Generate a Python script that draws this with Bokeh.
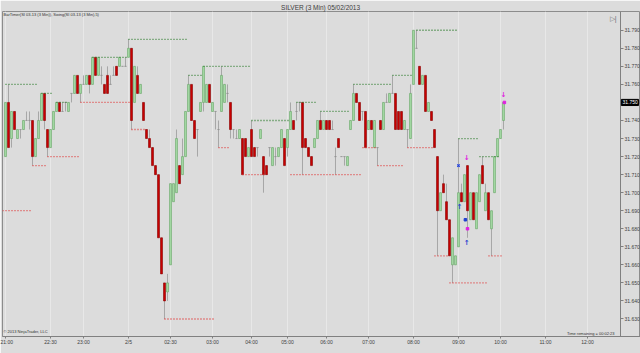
from bokeh.plotting import figure
from bokeh.models import ColumnDataSource, FixedTicker, NumeralTickFormatter, Label, Title, Range1d
from bokeh.embed import file_html
from bokeh.resources import INLINE
from bokeh.core.properties import value

# ---- 3-minute bars (bar index = position on the chart) ----
opens = [31.720, 31.750, 31.730, 31.745, 31.730, 31.735, 31.735, 31.740, 31.740, 31.740,
         31.720, 31.730, 31.740, 31.755, 31.735, 31.725, 31.735, 31.745, 31.750, 31.745,
         31.750, 31.745, 31.755, 31.755, 31.765, 31.755, 31.760, 31.760, 31.765, 31.760,
         31.775, 31.765, 31.765, 31.760, 31.765, 31.760, 31.765, 31.770, 31.770, 31.770,
         31.770, 31.775, 31.780, 31.750, 31.765, 31.755, 31.750, 31.735, 31.730, 31.725,
         31.715, 31.710, 31.675, 31.650, 31.645, 31.660, 31.695, 31.700, 31.715, 31.710,
         31.720, 31.745, 31.760, 31.740, 31.735, 31.745, 31.750, 31.750, 31.760, 31.745,
         31.745, 31.735, 31.745, 31.750, 31.755, 31.750, 31.735, 31.730, 31.730, 31.730,
         31.730, 31.720, 31.735, 31.725, 31.725, 31.730, 31.720, 31.715, 31.725, 31.715,
         31.720, 31.720, 31.725, 31.730, 31.725, 31.735, 31.740, 31.745, 31.750, 31.750,
         31.730, 31.725, 31.720, 31.725, 31.730, 31.740, 31.735, 31.740, 31.740, 31.735,
         31.720, 31.730, 31.720, 31.720, 31.715, 31.735, 31.740, 31.755, 31.750, 31.745,
         31.745, 31.735, 31.740, 31.725, 31.725, 31.740, 31.735, 31.750, 31.750, 31.755,
         31.755, 31.745, 31.745, 31.735, 31.735, 31.730, 31.760, 31.780, 31.770, 31.760,
         31.765, 31.745, 31.745, 31.735, 31.720, 31.690, 31.705, 31.695, 31.685, 31.660,
         31.660, 31.670, 31.700, 31.695, 31.715, 31.685, 31.700, 31.680, 31.695, 31.715,
         31.690, 31.700, 31.680, 31.700, 31.720, 31.730, 31.740]
highs = [31.750, 31.760, 31.745, 31.745, 31.735, 31.735, 31.740, 31.745, 31.745, 31.740,
         31.730, 31.745, 31.755, 31.755, 31.735, 31.735, 31.745, 31.750, 31.750, 31.750,
         31.750, 31.750, 31.755, 31.765, 31.765, 31.760, 31.765, 31.765, 31.765, 31.775,
         31.775, 31.775, 31.770, 31.760, 31.770, 31.765, 31.770, 31.770, 31.775, 31.770,
         31.775, 31.785, 31.780, 31.770, 31.770, 31.760, 31.750, 31.735, 31.735, 31.725,
         31.715, 31.710, 31.675, 31.650, 31.655, 31.705, 31.705, 31.735, 31.715, 31.730,
         31.745, 31.765, 31.760, 31.740, 31.735, 31.750, 31.770, 31.760, 31.760, 31.750,
         31.745, 31.740, 31.770, 31.760, 31.760, 31.750, 31.735, 31.735, 31.735, 31.730,
         31.730, 31.725, 31.740, 31.725, 31.725, 31.735, 31.720, 31.715, 31.725, 31.725,
         31.725, 31.725, 31.735, 31.730, 31.735, 31.750, 31.740, 31.750, 31.750, 31.750,
         31.730, 31.725, 31.720, 31.730, 31.740, 31.745, 31.740, 31.740, 31.740, 31.740,
         31.725, 31.730, 31.720, 31.720, 31.720, 31.740, 31.760, 31.755, 31.750, 31.745,
         31.745, 31.740, 31.740, 31.740, 31.725, 31.740, 31.750, 31.755, 31.755, 31.765,
         31.755, 31.745, 31.745, 31.740, 31.735, 31.760, 31.790, 31.790, 31.770, 31.765,
         31.765, 31.750, 31.745, 31.735, 31.720, 31.700, 31.710, 31.705, 31.685, 31.675,
         31.665, 31.730, 31.705, 31.710, 31.715, 31.700, 31.700, 31.700, 31.710, 31.720,
         31.705, 31.700, 31.690, 31.720, 31.730, 31.735, 31.750]
lows = [31.720, 31.725, 31.725, 31.735, 31.730, 31.730, 31.735, 31.740, 31.735, 31.715,
        31.720, 31.730, 31.740, 31.735, 31.720, 31.725, 31.735, 31.745, 31.745, 31.745,
        31.745, 31.745, 31.750, 31.755, 31.755, 31.750, 31.760, 31.760, 31.755, 31.760,
        31.765, 31.765, 31.760, 31.755, 31.755, 31.760, 31.765, 31.765, 31.770, 31.770,
        31.770, 31.775, 31.735, 31.750, 31.755, 31.755, 31.740, 31.730, 31.725, 31.715,
        31.710, 31.675, 31.655, 31.630, 31.640, 31.660, 31.695, 31.700, 31.705, 31.710,
        31.720, 31.745, 31.740, 31.730, 31.720, 31.745, 31.745, 31.750, 31.750, 31.745,
        31.735, 31.725, 31.745, 31.750, 31.750, 31.730, 31.730, 31.730, 31.730, 31.710,
        31.720, 31.720, 31.720, 31.720, 31.720, 31.730, 31.700, 31.710, 31.720, 31.715,
        31.715, 31.720, 31.725, 31.715, 31.720, 31.735, 31.735, 31.740, 31.745, 31.710,
        31.725, 31.720, 31.715, 31.725, 31.730, 31.735, 31.735, 31.735, 31.735, 31.735,
        31.710, 31.725, 31.720, 31.715, 31.715, 31.735, 31.740, 31.750, 31.740, 31.740,
        31.725, 31.735, 31.735, 31.725, 31.715, 31.735, 31.735, 31.750, 31.750, 31.755,
        31.735, 31.735, 31.735, 31.735, 31.725, 31.730, 31.760, 31.780, 31.760, 31.760,
        31.745, 31.745, 31.740, 31.725, 31.665, 31.690, 31.700, 31.685, 31.665, 31.650,
        31.660, 31.670, 31.695, 31.695, 31.675, 31.685, 31.685, 31.680, 31.695, 31.705,
        31.690, 31.685, 31.665, 31.700, 31.720, 31.730, 31.735]
closes = [31.750, 31.725, 31.745, 31.735, 31.735, 31.735, 31.740, 31.740, 31.740, 31.720,
          31.730, 31.740, 31.755, 31.740, 31.725, 31.735, 31.745, 31.750, 31.745, 31.745,
          31.750, 31.750, 31.755, 31.765, 31.755, 31.760, 31.760, 31.765, 31.760, 31.775,
          31.765, 31.775, 31.765, 31.755, 31.755, 31.760, 31.765, 31.765, 31.775, 31.770,
          31.770, 31.780, 31.740, 31.770, 31.755, 31.760, 31.740, 31.730, 31.725, 31.715,
          31.710, 31.675, 31.655, 31.640, 31.650, 31.705, 31.705, 31.730, 31.705, 31.720,
          31.745, 31.760, 31.740, 31.730, 31.735, 31.750, 31.770, 31.760, 31.750, 31.750,
          31.745, 31.735, 31.765, 31.760, 31.755, 31.735, 31.735, 31.730, 31.735, 31.710,
          31.720, 31.725, 31.720, 31.720, 31.725, 31.735, 31.710, 31.710, 31.725, 31.725,
          31.720, 31.725, 31.735, 31.715, 31.735, 31.745, 31.735, 31.745, 31.750, 31.725,
          31.725, 31.720, 31.715, 31.730, 31.740, 31.735, 31.740, 31.735, 31.735, 31.735,
          31.720, 31.725, 31.720, 31.720, 31.720, 31.740, 31.755, 31.750, 31.740, 31.745,
          31.725, 31.740, 31.735, 31.740, 31.725, 31.735, 31.750, 31.750, 31.755, 31.755,
          31.735, 31.735, 31.735, 31.740, 31.735, 31.755, 31.790, 31.780, 31.760, 31.765,
          31.745, 31.750, 31.740, 31.725, 31.690, 31.700, 31.700, 31.685, 31.665, 31.675,
          31.665, 31.700, 31.695, 31.710, 31.690, 31.700, 31.685, 31.700, 31.710, 31.705,
          31.700, 31.685, 31.690, 31.720, 31.730, 31.735, 31.750]

# ---- Swing indicator lines (start bar, end bar, price) ----
swing_high_start = [0, 12, 17, 29, 41, 61, 66, 82, 97, 105, 116, 129, 137, 151, 158]
swing_high_end = [11, 16, 21, 41, 61, 66, 82, 95, 104, 115, 129, 136, 151, 158, 165]
swing_high_price = [31.760, 31.755, 31.750, 31.775, 31.785, 31.765, 31.770, 31.740,
                    31.750, 31.745, 31.760, 31.765, 31.790, 31.730, 31.720]
swing_low_start = [-1, 9, 14, 25, 42, 53, 71, 79, 95, 119, 124, 134, 143, 148, 161]
swing_low_end = [9, 14, 25, 42, 47, 70, 75, 87, 119, 124, 133, 143, 148, 161, 166]
swing_low_price = [31.690, 31.715, 31.720, 31.750, 31.735, 31.630, 31.725, 31.710,
                   31.710, 31.725, 31.715, 31.725, 31.665, 31.650, 31.665]

# ---- trade markers ----
up_arrow_bar = [151.3, 153.7]
up_arrow_price = [31.692, 31.672]
down_arrow_bar = [153.7, 166.0]
down_arrow_price = [31.719, 31.754]
x_mark_bar = [151.0]
x_mark_price = [31.715]
blue_dot_bar = [153.3]
blue_dot_price = [31.685]
pink_dot_bar = [154.0, 166.3]
pink_dot_price = [31.680, 31.750]

# ---- axes ----
time_tick_bars = [0, 15, 26, 41, 55, 69, 82, 94, 107, 121, 136, 151, 165, 180, 194]
time_tick_labels = ["21:00", "22:30", "23:00", "2/5", "02:30", "03:00", "04:00", "05:00",
                    "06:00", "07:00", "08:00", "09:00", "10:00", "11:00", "12:00"]
price_ticks = [31.63, 31.64, 31.65, 31.66, 31.67, 31.68, 31.69, 31.70, 31.71,
               31.72, 31.73, 31.74, 31.75, 31.76, 31.77, 31.78, 31.79]
last_price = closes[-1]
price_axis_bar = 205          # bar position where the price scale sits

BG = "#dcdcdc"
UP_FILL, UP_LINE = "#a3d8a3", "#6aa86a"
DN_FILL, DN_LINE = "#c80000", "#8a0000"
WICK = "#a6a6a6"
FONT = "Liberation Sans"

bars = list(range(len(opens)))
fills, lines, tops, bottoms = [], [], [], []
for o, c in zip(opens, closes):
    if c > o:
        fills.append(UP_FILL); lines.append(UP_LINE)
    elif c < o:
        fills.append(DN_FILL); lines.append(DN_LINE)
    else:
        fills.append(WICK); lines.append("#909090")
    tops.append(max(o, c)); bottoms.append(min(o, c))

src = ColumnDataSource(dict(x=bars, o=opens, h=highs, l=lows, c=closes,
                            top=tops, bottom=bottoms, fill=fills, line=lines))

p = figure(width=640, height=353, output_backend="svg", toolbar_location=None,
           x_range=Range1d(-1, 211.67), y_range=Range1d(31.6203, 31.8004),
           y_axis_location="right",
           min_border_left=2, min_border_right=0, min_border_top=11, min_border_bottom=17,
           background_fill_color=BG, border_fill_color=BG)
p.outline_line_color = "#8c8c8c"

title = Title(text="SILVER (3 Min)  05/02/2013", align="center", text_font_size="6.5px",
              text_font=FONT, text_font_style="normal", text_color="#3c3c3c", standoff=1)
p.add_layout(title, "above")

p.xgrid.grid_line_color = "#e8e8e8"
p.ygrid.grid_line_color = None

xa = p.xaxis[0]
xa.ticker = FixedTicker(ticks=time_tick_bars)
xa.major_label_overrides = {b: t for b, t in zip(time_tick_bars, time_tick_labels)}
xa.major_label_text_font_size = "5px"
xa.major_label_text_font = FONT
xa.major_label_text_color = "#404040"
xa.major_tick_out = 2
xa.major_tick_in = 0
xa.minor_tick_line_color = None
xa.axis_line_color = "#808080"
xa.major_tick_line_color = "#808080"
xa.major_label_standoff = 0

ya = p.yaxis[0]
ya.fixed_location = price_axis_bar
ya.ticker = FixedTicker(ticks=price_ticks)
ya.formatter = NumeralTickFormatter(format="0.000")
ya.major_label_text_font_size = "5px"
ya.major_label_text_font = FONT
ya.major_label_text_color = "#404040"
ya.major_tick_out = 3
ya.major_tick_in = 0
ya.minor_tick_line_color = None
ya.axis_line_color = "#808080"
ya.major_tick_line_color = "#808080"
ya.major_label_standoff = 1

# wicks then bodies
p.segment(x0="x", y0="h", x1="x", y1="l", source=src, line_color=WICK, line_width=1)
p.vbar(x="x", width=0.66, top="top", bottom="bottom", source=src,
       fill_color="fill", line_color="line", line_width=0.6)

# swing lines (dotted)
p.segment(x0=swing_high_start, y0=swing_high_price, x1=swing_high_end, y1=swing_high_price,
          line_color="#2e7d2e", line_width=1.3, line_dash="1 2")
p.segment(x0=swing_low_start, y0=swing_low_price, x1=swing_low_end, y1=swing_low_price,
          line_color="#e03a3a", line_width=1.3, line_dash="1 2")

# markers
p.text(up_arrow_bar, up_arrow_price, text=["\u2191"] * len(up_arrow_bar),
       text_font=value("DejaVu Sans"), text_font_size="7px", text_font_style="bold",
       text_color="#1f3fd0", text_align="center", text_baseline="middle")
p.text(down_arrow_bar, down_arrow_price, text=["\u2193"] * len(down_arrow_bar),
       text_font=value("DejaVu Sans"), text_font_size="7px", text_font_style="bold",
       text_color="#e020e0", text_align="center", text_baseline="middle")
p.scatter(x_mark_bar, x_mark_price, marker="x", size=3.5, line_color="#2040e0", line_width=1.2)
p.scatter(blue_dot_bar, blue_dot_price, marker="square", size=2.5, color="#1f3fd0")
p.scatter(pink_dot_bar, pink_dot_price, marker="square", size=2.5, color="#e020e0")

# last price marker on the price scale
lp_box = p.quad(left=[price_axis_bar + 0.3], right=[price_axis_bar + 6.0],
                top=[last_price + 0.0017], bottom=[last_price - 0.0017],
                fill_color="black", line_color="black")
lp_box.level = "overlay"
lp_txt = p.text([price_axis_bar + 0.7], [last_price], text=["%.3f" % last_price],
                text_font=value(FONT), text_font_size="5px", text_color="white",
                text_align="left", text_baseline="middle")
lp_txt.level = "overlay"

# texts
p.add_layout(Label(x=1, y=322, x_units="screen", y_units="screen",
                   text="BarTimer(SI 03-13 (3 Min)), Swing(SI 03-13 (3 Min),5)",
                   text_font_size="4px", text_font=FONT, text_color="#303030",
                   text_baseline="middle"))
p.add_layout(Label(x=1, y=5, x_units="screen", y_units="screen",
                   text="\u00a9 2013 NinjaTrader, LLC",
                   text_font_size="4px", text_font=FONT, text_color="#303030",
                   text_baseline="middle"))
p.add_layout(Label(x=612, y=3, x_units="screen", y_units="screen",
                   text="Time remaining = 00:02:23",
                   text_font_size="4px", text_font=FONT, text_color="#303030",
                   text_baseline="middle", text_align="right"))
p.add_layout(Label(x=614, y=318, x_units="screen", y_units="screen",
                   text="\u25b7|", text_font_size="7px", text_font=FONT, text_color="#707070",
                   text_baseline="middle", text_align="right"))

open("out.html", "w").write(file_html(p, INLINE))
